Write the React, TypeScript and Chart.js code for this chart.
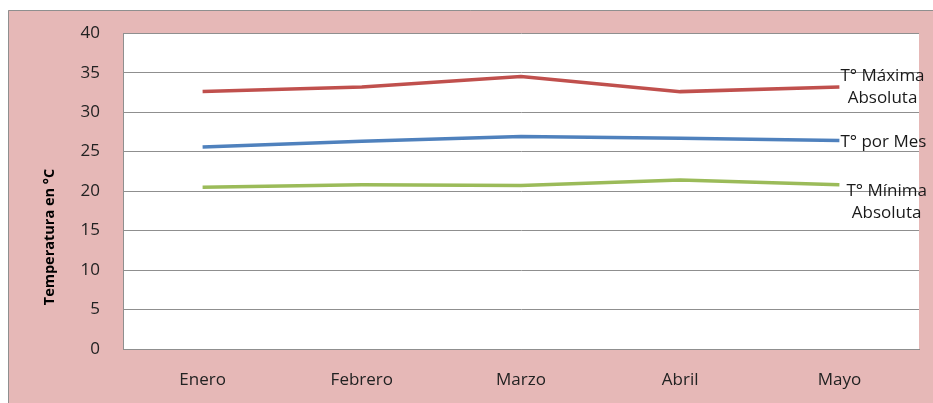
import React, { useEffect, useRef } from "react";
import { Chart, registerables } from "chart.js";

Chart.register(...registerables);

const categories = ["Enero", "Febrero", "Marzo", "Abril", "Mayo"];
const maxValues = [32.6, 33.2, 34.5, 32.6, 33.2];
const meanValues = [25.6, 26.3, 26.9, 26.7, 26.4];
const minValues = [20.5, 20.8, 20.7, 21.4, 20.8];
const seriesLabels = [["T° Máxima", "Absoluta"], ["T° por Mes"], ["T° Mínima", "Absoluta"]];
const yTitle = "Temperatura en °C";

const FONT = "'Open Sans', 'Liberation Sans', sans-serif";

export default function App() {
  const ref = useRef<HTMLCanvasElement | null>(null);

  useEffect(() => {
    document.body.style.margin = "0";
    const canvas = ref.current;
    if (!canvas) return;

    const bgPlugin = {
      id: "bg",
      beforeDraw(chart: any) {
        const { ctx, chartArea } = chart;
        ctx.save();
        ctx.fillStyle = "#ffffff";
        ctx.fillRect(0, 0, chart.width, chart.height);
        ctx.fillStyle = "#e6b8b7";
        ctx.fillRect(8, 10, chart.width - 8, chart.height - 10);
        ctx.strokeStyle = "#8f8f8f";
        ctx.lineWidth = 1;
        ctx.beginPath();
        ctx.moveTo(8.5, chart.height);
        ctx.lineTo(8.5, 10.5);
        ctx.lineTo(chart.width, 10.5);
        ctx.stroke();
        ctx.fillStyle = "#ffffff";
        ctx.fillRect(chartArea.left, chartArea.top, chartArea.right - chartArea.left, chartArea.bottom - chartArea.top);
        ctx.restore();
      },
    };

    const labelPlugin = {
      id: "seriesLabels",
      afterDatasetsDraw(chart: any) {
        const { ctx } = chart;
        const offsets = [
          { dx: 1, dy: 0 },
          { dx: 1, dy: 2 },
          { dx: 7, dy: 17 },
        ];
        ctx.save();
        ctx.font = `17px ${FONT}`;
        ctx.fillStyle = "#1a1a1a";
        ctx.textBaseline = "middle";
        ctx.textAlign = "center";
        chart.data.datasets.forEach((ds: any, i: number) => {
          const meta = chart.getDatasetMeta(i);
          const last = meta.data[meta.data.length - 1];
          const lines = seriesLabels[i];
          const w = Math.max(...lines.map((l: string) => ctx.measureText(l).width));
          const lh = 22;
          const cx = last.x + offsets[i].dx + w / 2;
          const cy = last.y + offsets[i].dy;
          lines.forEach((l: string, j: number) => {
            ctx.fillText(l, cx, cy + (j - (lines.length - 1) / 2) * lh);
          });
        });
        // y-axis title
        ctx.font = `bold 14.5px ${FONT}`;
        ctx.fillStyle = "#000000";
        ctx.translate(50, 237);
        ctx.rotate(-Math.PI / 2);
        ctx.fillText(yTitle, 0, 0);
        ctx.restore();
      },
    };

    const chart = new Chart(canvas, {
      type: "line",
      data: {
        labels: categories,
        datasets: [
          { label: seriesLabels[0].join(" "), data: maxValues, borderColor: "#c0504d", borderWidth: 3.5 },
          { label: seriesLabels[1].join(" "), data: meanValues, borderColor: "#4f81bd", borderWidth: 3.5 },
          { label: seriesLabels[2].join(" "), data: minValues, borderColor: "#9bbb59", borderWidth: 3.5 },
        ],
      },
      options: {
        animation: false,
        responsive: false,
        maintainAspectRatio: false,
        layout: { padding: { top: 29, right: 14, left: 0, bottom: 0 } },
        elements: { point: { radius: 0, hoverRadius: 0 }, line: { tension: 0 } },
        plugins: { legend: { display: false }, tooltip: { enabled: false } },
        scales: {
          x: {
            offset: true,
            grid: { display: false, drawTicks: false },
            border: { display: true, color: "#8f8f8f", width: 1 },
            ticks: { padding: 21, color: "#222222", font: { family: FONT, size: 17 } },
            afterFit: (s: any) => { s.height = 54; },
          },
          y: {
            min: 0,
            max: 40,
            ticks: { stepSize: 5, padding: 23, color: "#222222", font: { family: FONT, size: 17 } },
            grid: { color: "#8f8f8f", drawTicks: false },
            border: { display: true, color: "#8f8f8f", width: 1 },
            afterFit: (s: any) => { s.width = 123; },
          },
        },
      },
      plugins: [bgPlugin, labelPlugin],
    });
    return () => chart.destroy();
  }, []);

  return (
    <div style={{ width: 933, height: 403 }}>
      <canvas ref={ref} width={933} height={403} style={{ display: "block", width: 933, height: 403 }} />
    </div>
  );
}
